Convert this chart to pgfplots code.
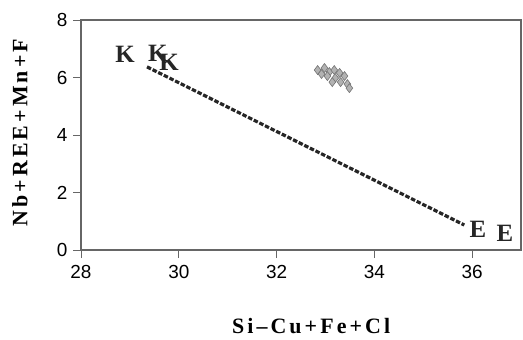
\documentclass[border=0pt]{standalone}
\usepackage{fontspec}
\setmainfont{Liberation Sans}
\newfontfamily\serifb[LetterSpace=14]{Liberation Serif}
\newfontfamily\serifk{Liberation Serif}
\usepackage{pgfplots}
\pgfplotsset{compat=1.18}
\begin{document}
\begin{tikzpicture}
\begin{axis}[
  scale only axis, width=440bp, height=230bp,
  xmin=28, xmax=37, ymin=0, ymax=8,
  xtick={28,30,32,34,36}, ytick={0,2,4,6,8},
  tick align=outside, tick pos=left,
  major tick length=8bp,
  axis line style={draw=black!60, line width=1.2pt},
  every tick/.style={black!60, line width=1pt},
  /pgf/number format/assume math mode=true,
  tick label style={font=\fontsize{19}{21}\selectfont},
  xticklabel style={yshift=-4bp},
  yticklabel style={xshift=-2bp},
  xlabel={\serifb\bfseries\fontsize{22}{24}\selectfont Si\textendash Cu+Fe+Cl},
  ylabel={\serifb\bfseries\fontsize{22}{24}\selectfont Nb+REE+Mn+F},
  x label style={at={(rel axis cs:0.523,0)}, anchor=center, yshift=-76bp},
  y label style={at={(rel axis cs:0,0.51)}, anchor=center, yshift=61bp},
  clip=false,
]
\coordinate (sw) at (rel axis cs:0,0);
\coordinate (ne) at (rel axis cs:1,1);
\addplot[black!85, line width=3.2pt, dash pattern=on 4.5pt off 1.8pt] coordinates {(29.35,6.37) (35.84,0.87)};
\addplot[only marks, mark=diamond*, mark size=4.5pt, mark options={fill=black!30, draw=black!55, line width=0.6pt}] coordinates {
(32.84,6.26) (32.98,6.33) (33.08,6.19) (33.18,6.26) (33.29,6.16)
(33.04,6.05) (33.20,5.98) (33.39,6.05) (33.31,5.84) (33.45,5.77)
(32.92,6.12) (33.14,5.84) (33.49,5.63)
};
\addplot[only marks, mark=none, point meta=explicit symbolic, nodes near coords,
  nodes near coords align=center,
  every node near coord/.append style={font=\serifk\bfseries\fontsize{25}{27}\selectfont, text=black!85, inner sep=0pt}]
  table[meta=label] {
x y label
28.90 6.82 K
29.57 6.85 K
29.80 6.54 K
36.12 0.73 E
36.67 0.59 E
};
\end{axis}
\pgfresetboundingbox
\path[use as bounding box] ([xshift=-81bp,yshift=-89bp]sw) rectangle ([xshift=2bp,yshift=20bp]ne);
\end{tikzpicture}
\end{document}
